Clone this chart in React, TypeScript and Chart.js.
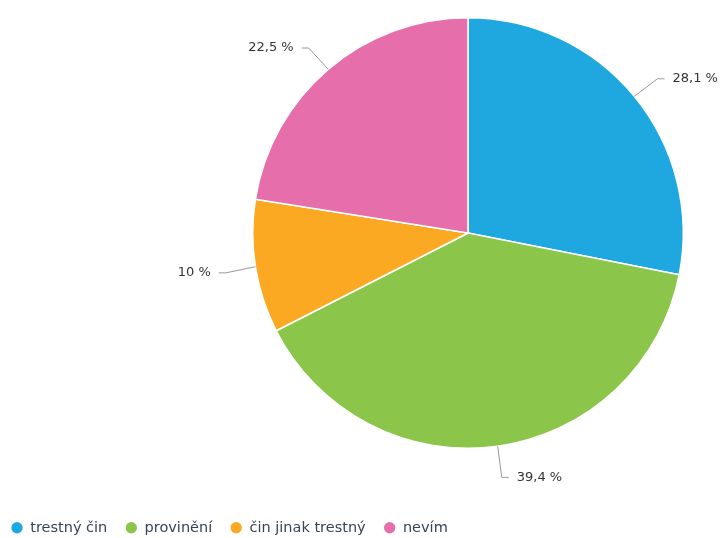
import { useEffect, useRef } from 'react';
import { Chart, registerables } from 'chart.js';

Chart.register(...registerables);

const categories = ['trestný čin', 'provinění', 'čin jinak trestný', 'nevím'];
const values = [28.1, 39.4, 10, 22.5];
const valueLabels = ['28,1 %', '39,4 %', '10 %', '22,5 %'];
const colors = ['#1fa8e0', '#8bc54a', '#fba823', '#e56eab'];

const FONT = '"DejaVu Sans", sans-serif';

const outsideLabels = {
  id: 'outsideLabels',
  afterDatasetsDraw(chart: any) {
    const ctx = chart.ctx as CanvasRenderingContext2D;
    const meta = chart.getDatasetMeta(0);
    ctx.save();
    ctx.font = `13px ${FONT}`;
    ctx.textBaseline = 'middle';
    meta.data.forEach((arc: any, i: number) => {
      const { x, y, startAngle, endAngle, outerRadius } = arc.getProps(
        ['x', 'y', 'startAngle', 'endAngle', 'outerRadius'],
        true
      );
      const mid = (startAngle + endAngle) / 2;
      const cos = Math.cos(mid);
      const sin = Math.sin(mid);
      const x0 = x + cos * outerRadius;
      const y0 = y + sin * outerRadius;
      const x1 = x + cos * (outerRadius + 30);
      const y1 = y + sin * (outerRadius + 30) + 1.5;
      const dir = cos >= 0 ? 1 : -1;
      ctx.strokeStyle = '#999999';
      ctx.lineWidth = 1;
      ctx.beginPath();
      ctx.moveTo(x0, y0);
      ctx.lineTo(x1, y1);
      ctx.lineTo(x1 + dir * 7, y1);
      ctx.stroke();
      ctx.fillStyle = '#333333';
      ctx.textAlign = dir > 0 ? 'left' : 'right';
      ctx.fillText(valueLabels[i], x1 + dir * 15, y1);
    });
    ctx.restore();
  },
};

const placement = {
  id: 'placement',
  afterLayout(chart: any) {
    const a = chart.chartArea;
    a.left = 252;
    a.right = 684;
    a.top = 17;
    a.bottom = 449;
    a.width = 432;
    a.height = 432;
    const lg = chart.legend;
    if (lg) {
      lg.top += 7;
      lg.bottom += 7;
      lg.left -= 7;
      lg.right -= 7;
    }
  },
};

export default function App() {
  const ref = useRef<HTMLCanvasElement>(null);

  useEffect(() => {
    if (!ref.current) return;
    Chart.defaults.font.family = FONT;
    const chart = new Chart(ref.current, {
      type: 'pie',
      data: {
        labels: categories,
        datasets: [
          {
            data: values,
            backgroundColor: colors,
            borderColor: '#ffffff',
            borderWidth: 1.5,
          },
        ],
      },
      options: {
        animation: false,
        responsive: true,
        maintainAspectRatio: false,
        layout: { padding: 0 },
        plugins: {
          tooltip: { enabled: false },
          legend: {
            position: 'bottom',
            align: 'start',
            labels: {
              usePointStyle: true,
              pointStyle: 'circle',
              boxWidth: 12,
              boxHeight: 8,
              padding: 18,
              color: '#354556',
              font: { size: 14.5, family: FONT },
              generateLabels: (c: any) =>
                (Chart as any).overrides.pie.plugins.legend.labels
                  .generateLabels(c)
                  .map((l: any) => ({ ...l, lineWidth: 0, strokeStyle: l.fillStyle })),
            },
          },
        },
      },
      plugins: [placement, outsideLabels],
    } as any);
    return () => chart.destroy();
  }, []);

  return (
    <div style={{ position: 'absolute', left: 0, top: 0, width: 724, height: 538 }}>
      <canvas ref={ref} />
    </div>
  );
}
